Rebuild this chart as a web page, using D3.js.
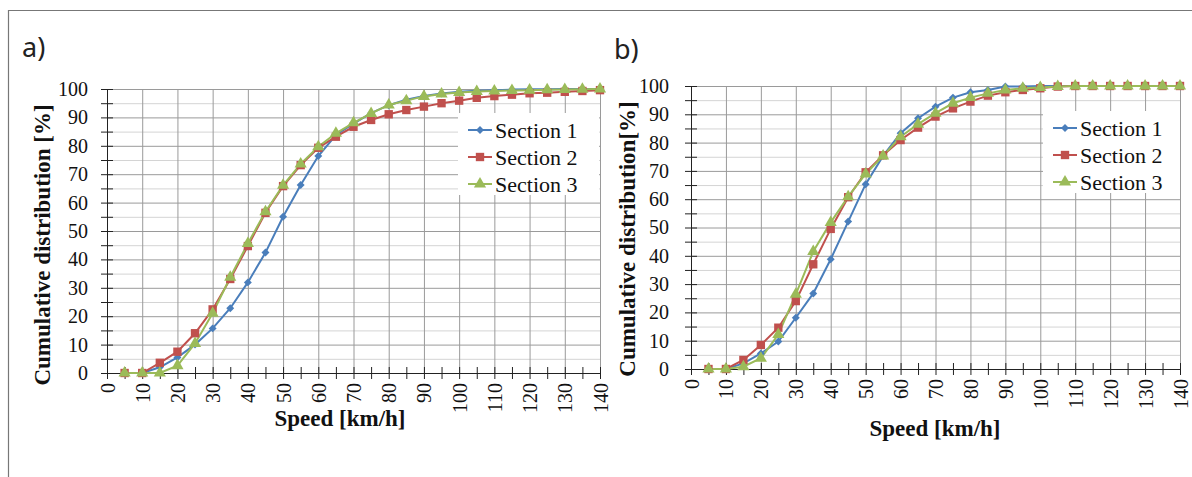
<!DOCTYPE html>
<html>
<head>
<meta charset="utf-8">
<script src="https://cdn.jsdelivr.net/npm/d3@7"></script>
<style>
  body { margin: 0; background: #fff; }
  svg { display: block; }
</style>
</head>
<body>
<div id="chart"></div>
<script>
// DATA
const speeds = [5, 10, 15, 20, 25, 30, 35, 40, 45, 50, 55, 60, 65, 70,
  75, 80, 85, 90, 95, 100, 105, 110, 115, 120, 125, 130, 135, 140];
const seriesNames = ['Section 1', 'Section 2', 'Section 3'];
const xTicks = [0, 10, 20, 30, 40, 50, 60, 70, 80, 90, 100, 110, 120, 130, 140];
const yTicks = [0, 10, 20, 30, 40, 50, 60, 70, 80, 90, 100];

// panel a)
const aSec1 = [0, 0, 2, 5.5, 10, 15.7, 22.8, 31.9, 42.4, 55, 66.2, 76.4, 83.8, 87.8,
  91.5, 94.3, 96.2, 97.5, 98.4, 99, 99.4, 99.6, 99.8, 99.9, 99.9, 100, 100, 100];
const aSec2 = [0, 0, 3.6, 7.5, 14, 22.4, 33.1, 44.7, 56.4, 65.8, 73.2, 79.3, 83.2, 86.7,
  89.1, 91.1, 92.6, 93.8, 95, 95.9, 96.9, 97.5, 98, 98.5, 98.7, 99, 99.3, 99.6];
const aSec3 = [0, 0, 0, 2.6, 10.4, 21, 33.7, 45.6, 56.8, 66.1, 73.6, 79.7, 84.4, 88.1,
  91.4, 94.4, 95.9, 97.4, 98.2, 98.8, 99.1, 99.3, 99.5, 99.6, 99.7, 99.8, 99.9, 100];

// panel b)
const bSec1 = [0, 0, 2, 5.5, 9.7, 18.1, 26.7, 38.8, 52.1, 65.3, 75.3, 83.3, 88.6, 92.7,
  95.9, 97.8, 98.6, 99.8, 99.8, 100, 100, 100, 100, 100, 100, 100, 100, 100];
const bSec2 = [0, 0, 3.2, 8.5, 14.6, 24, 37, 49.5, 60.7, 69.5, 75.5, 80.9, 85.3, 89.2,
  92.1, 94.5, 96.6, 97.8, 98.6, 99.2, 99.8, 100, 100, 100, 100, 100, 100, 100];
const bSec3 = [0, 0, 0.8, 3.8, 12.2, 26.4, 41.5, 51.8, 60.9, 68.9, 75.3, 82.1, 86.5, 90.4,
  93.9, 95.9, 97.4, 98.6, 99.2, 99.5, 99.8, 100, 100, 100, 100, 100, 100, 100];

// STYLE
const colors = ['#4a7ebb', '#c0504d', '#9bbb59'];
const serif = '"Liberation Serif", "Times New Roman", serif';

const W = 1192, H = 477;
const svg = d3.select('#chart').append('svg')
  .attr('width', W).attr('height', H);

svg.append('rect').attr('width', W).attr('height', H).attr('fill', '#fff');

// outer frame (top and left only)
svg.append('path')
  .attr('d', `M8.5,${H} V10.5 H${W}`)
  .attr('fill', 'none').attr('stroke', '#777').attr('stroke-width', 1.2);

// MARKER SHAPES
const markers = [
  d3.symbol().type(d3.symbolDiamond2).size(40),
  d3.symbol().type(d3.symbolSquare).size(70),
  d3.symbol().type(d3.symbolTriangle).size(64)
];

function drawPanel(p) {
  const x = d3.scaleLinear().domain([0, 140]).range([p.left, p.right]);
  const y = d3.scaleLinear().domain([0, 100]).range([p.bottom, p.top]);
  const g = svg.append('g');

  // minor horizontal grid
  g.append('g')
    .attr('transform', `translate(${p.left},0)`)
    .call(d3.axisLeft(y).tickValues(d3.range(5, 100, 10)).tickSize(-(p.right - p.left)).tickFormat(''))
    .call(a => a.select('.domain').remove())
    .call(a => a.selectAll('line').attr('stroke', '#d4d4d4'));

  // major grid
  g.append('g')
    .attr('transform', `translate(${p.left},0)`)
    .call(d3.axisLeft(y).tickValues(yTicks.slice(1)).tickSize(-(p.right - p.left)).tickFormat(''))
    .call(a => a.select('.domain').remove())
    .call(a => a.selectAll('line').attr('stroke', '#9a9a9a'));
  g.append('g')
    .attr('transform', `translate(0,${p.bottom})`)
    .call(d3.axisBottom(x).tickValues(xTicks.slice(1)).tickSize(-(p.bottom - p.top)).tickFormat(''))
    .call(a => a.select('.domain').remove())
    .call(a => a.selectAll('line').attr('stroke', '#9a9a9a'));

  // y axis (cross ticks)
  const yAll = d3.range(0, 101, 5);
  const yAx = g.append('g')
    .attr('transform', `translate(${p.left},0)`)
    .call(d3.axisLeft(y).tickValues(yAll).tickSizeInner(6).tickSizeOuter(0).tickPadding(p.yPad)
      .tickFormat(d => d % 10 === 0 ? d : ''));
  yAx.selectAll('line').clone().attr('x2', 6);
  yAx.selectAll('line').attr('stroke', '#222');
  yAx.select('.domain').attr('stroke', '#222');
  yAx.selectAll('text').style('font', `20px ${serif}`).attr('fill', '#111');

  // x axis (cross ticks, rotated labels)
  const xAll = d3.range(0, 141, 5);
  const xAx = g.append('g')
    .attr('transform', `translate(0,${p.bottom})`)
    .call(d3.axisBottom(x).tickValues(xAll).tickSizeInner(6).tickSizeOuter(0)
      .tickFormat(d => d % 10 === 0 ? d : ''));
  xAx.selectAll('line').clone().attr('y2', -6);
  xAx.selectAll('line').attr('stroke', '#222');
  xAx.select('.domain').attr('stroke', '#222');
  xAx.selectAll('text')
    .attr('y', 0).attr('x', -10).attr('dy', '0.35em')
    .attr('transform', 'rotate(-90)')
    .style('text-anchor', 'end')
    .style('font', `20px ${serif}`).attr('fill', '#111');

  // series
  const line = d3.line().x((d, i) => x(speeds[i])).y(d => y(d));
  p.series.forEach((vals, k) => {
    g.append('path')
      .datum(vals)
      .attr('d', line)
      .attr('fill', 'none')
      .attr('stroke', colors[k])
      .attr('stroke-width', 2);
  });
  p.series.forEach((vals, k) => {
    g.append('g').selectAll('path')
      .data(vals)
      .join('path')
      .attr('d', markers[k])
      .attr('transform', (d, i) => `translate(${x(speeds[i])},${y(d)})`)
      .attr('fill', colors[k]);
  });

  // legend
  const lg = g.append('g').attr('transform', `translate(${p.legend[0]},${p.legend[1]})`);
  lg.append('rect').attr('width', p.legend[2]).attr('height', 82).attr('fill', '#fff');
  seriesNames.forEach((name, k) => {
    const row = lg.append('g').attr('transform', `translate(0,${17 + k * 27})`);
    row.append('line').attr('x1', 10).attr('x2', 34)
      .attr('stroke', colors[k]).attr('stroke-width', 2);
    row.append('path').attr('d', markers[k]).attr('transform', 'translate(22,0)').attr('fill', colors[k]);
    row.append('text').attr('x', 37).attr('dy', '0.35em')
      .style('font', `22px ${serif}`).attr('fill', '#111').text(name);
  });

  // axis titles
  svg.append('text')
    .attr('transform', `translate(${p.yLab[0]},${p.yLab[1]}) rotate(-90)`)
    .attr('text-anchor', 'middle').attr('dy', '0.35em')
    .style('font', `bold 23px ${serif}`).attr('fill', '#111')
    .text(p.yTitle);
  svg.append('text')
    .attr('x', p.xLab[0]).attr('y', p.xLab[1])
    .attr('text-anchor', 'middle').attr('dy', '0.35em')
    .style('font', `bold 23px ${serif}`).attr('fill', '#111')
    .text('Speed [km/h]');

  // panel letter
  svg.append('text')
    .attr('x', p.letter[0]).attr('y', p.letter[1])
    .style('font', '27px "Noto Sans", sans-serif').attr('fill', '#222')
    .text(p.name);
}

drawPanel({
  name: 'a)', left: 107, right: 600, top: 89, bottom: 373, yPad: 13,
  series: [aSec1, aSec2, aSec3],
  legend: [458, 113, 141],
  yTitle: 'Cumulative distribution [%]', yLab: [42, 245], xLab: [340, 418],
  letter: [22, 57]
});
drawPanel({
  name: 'b)', left: 691, right: 1180, top: 86, bottom: 369, yPad: 16,
  series: [bSec1, bSec2, bSec3],
  legend: [1043, 111, 137],
  yTitle: 'Cumulative distribution[%]', yLab: [627, 239], xLab: [935, 428],
  letter: [614, 59]
});
</script>
</body>
</html>
